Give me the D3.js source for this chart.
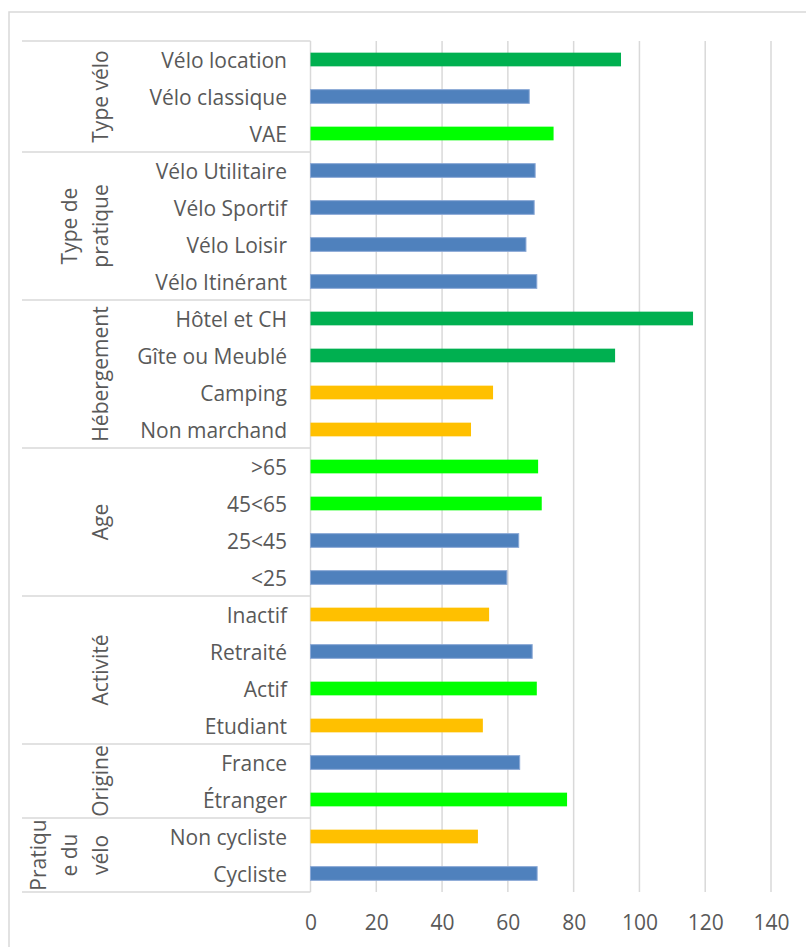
<!DOCTYPE html>
<html>
<head>
<meta charset="utf-8">
<script src="https://cdn.jsdelivr.net/npm/d3@7"></script>
<style>
  html, body { margin: 0; padding: 0; background: #fff; }
  svg { display: block; font-family: "Open Sans", sans-serif; }
</style>
</head>
<body>
<svg id="chart" width="806" height="947"></svg>
<script>
// ---- data ----
const categories = [
  "Vélo location", "Vélo classique", "VAE",
  "Vélo Utilitaire", "Vélo Sportif", "Vélo Loisir", "Vélo Itinérant",
  "Hôtel et CH", "Gîte ou Meublé", "Camping", "Non marchand",
  ">65", "45<65", "25<45", "<25",
  "Inactif", "Retraité", "Actif", "Etudiant",
  "France", "Étranger",
  "Non cycliste", "Cycliste"
];
const values = [
  94.4, 66.5, 73.9,
  68.3, 68.0, 65.5, 68.8,
  116.3, 92.6, 55.5, 48.8,
  69.2, 70.3, 63.3, 59.7,
  54.3, 67.4, 68.8, 52.4,
  63.6, 78.0,
  50.9, 68.9
];
const levels = [
  "fort", "moyen", "élevé",
  "moyen", "moyen", "moyen", "moyen",
  "fort", "fort", "faible", "faible",
  "élevé", "élevé", "moyen", "moyen",
  "faible", "moyen", "élevé", "faible",
  "moyen", "élevé",
  "faible", "moyen"
];
const groupNames = [
  ["Type vélo"], ["Type de", "pratique"], ["Hébergement"], ["Age"],
  ["Activité"], ["Origine"], ["Pratiqu", "e du", "vélo"]
];
const groupSizes = [3, 4, 4, 4, 4, 2, 2];
const xTicks = [0, 20, 40, 60, 80, 100, 120, 140];

// ---- layout ----
const svg = d3.select("#chart");
const plot = { left: 310.5, right: 771, top: 41, bottom: 892 };
const textColor = "#595959";
const lineColor = "#d9d9d9";

const x = d3.scaleLinear().domain([0, 140]).range([plot.left, plot.right]);
const y = d3.scaleBand().domain(categories).range([plot.top, plot.bottom]).paddingInner(0).paddingOuter(0);
const barH = y.bandwidth() / 2.7;
const color = d3.scaleOrdinal()
  .domain(["fort", "élevé", "moyen", "faible"])
  .range(["#00B050", "#00FF00", "#4F81BD", "#FFC000"]);

// chart border (clipped at right/bottom)
svg.append("rect")
  .attr("x", 9).attr("y", 12).attr("width", 830).attr("height", 960)
  .attr("fill", "none").attr("stroke", lineColor).attr("stroke-width", 1.5);

// gridlines
svg.append("g").selectAll("line").data(xTicks).join("line")
  .attr("x1", d => x(d)).attr("x2", d => x(d))
  .attr("y1", plot.top).attr("y2", plot.bottom)
  .attr("stroke", lineColor).attr("stroke-width", 1.5);

// group boundary lines
const bounds = [0];
groupSizes.forEach(s => bounds.push(bounds[bounds.length - 1] + s));
const boundaryY = i => i < categories.length ? y(categories[i]) : plot.bottom;
svg.append("g").selectAll("line").data(bounds).join("line")
  .attr("x1", 22).attr("x2", plot.left)
  .attr("y1", d => boundaryY(d)).attr("y2", d => boundaryY(d))
  .attr("stroke", lineColor).attr("stroke-width", 1.5);

// bars
svg.append("g").selectAll("rect").data(categories).join("rect")
  .attr("x", x(0))
  .attr("y", d => y(d) + (y.bandwidth() - barH) / 2)
  .attr("width", (d, i) => x(values[i]) - x(0))
  .attr("height", barH)
  .attr("fill", (d, i) => color(levels[i]))
  .attr("stroke", (d, i) => levels[i] === "moyen" ? "#8aa8d6" : "none")
  .attr("stroke-width", 1);

// category labels
svg.append("g").selectAll("text").data(categories).join("text")
  .attr("x", 287)
  .attr("y", d => y(d) + y.bandwidth() / 2)
  .attr("text-anchor", "end")
  .attr("dominant-baseline", "central")
  .attr("fill", textColor)
  .attr("font-size", 21)
  .text(d => d);

// group labels (rotated)
const gLabels = svg.append("g");
groupNames.forEach((lines, gi) => {
  const y0 = boundaryY(bounds[gi]), y1 = boundaryY(bounds[gi + 1]);
  const cy = (y0 + y1) / 2;
  const n = lines.length;
  lines.forEach((t, li) => {
    const cx = 100 - (n - 1 - li) * 31;
    gLabels.append("text")
      .attr("transform", `translate(${cx},${cy}) rotate(-90)`)
      .attr("text-anchor", "middle")
      .attr("dominant-baseline", "central")
      .attr("fill", textColor)
      .attr("font-size", 21)
      .text(t);
  });
});

// x axis labels
const xAxis = d3.axisBottom(x).tickValues(xTicks).tickSize(0).tickPadding(0);
const ax = svg.append("g").attr("transform", `translate(0,${plot.bottom})`).call(xAxis);
ax.select(".domain").remove();
ax.selectAll("text")
  .attr("y", 31)
  .attr("dy", "0.35em")
  .attr("fill", textColor)
  .attr("font-size", 21)
  .attr("font-family", "'Open Sans', sans-serif");
</script>
</body>
</html>
